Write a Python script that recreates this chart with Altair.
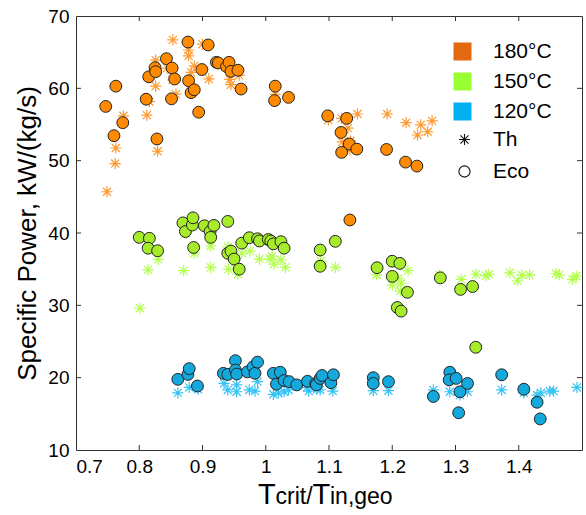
import altair as alt
import pandas as pd

# ---------------- data ----------------
eco180_x = [0.747, 0.763, 0.760, 0.774, 0.811, 0.815, 0.825, 0.826, 0.828, 0.843, 0.852, 0.851, 0.856,
            0.877, 0.878, 0.882, 0.887, 0.894, 0.899, 0.909, 0.922, 0.925, 0.938, 0.942, 0.945, 0.956,
            0.961, 1.015, 1.014, 1.036, 1.098, 1.128, 1.119, 1.132, 1.120, 1.144, 1.191, 1.221, 1.239, 1.133]
eco180_y = [57.5, 60.3, 53.45, 55.25, 58.5, 61.6, 62.85, 62.3, 53.0, 64.1, 62.8, 58.55, 61.3,
            66.4, 61.05, 59.4, 59.8, 56.7, 62.6, 66.0, 63.6, 63.5, 63.0, 63.6, 62.35, 62.5,
            59.9, 60.3, 58.3, 58.75, 56.2, 55.85, 53.9, 52.3, 51.15, 51.6, 51.55, 49.8, 49.25, 41.8]

th180_x = [0.749, 0.762, 0.763, 0.775, 0.812, 0.816, 0.826, 0.826, 0.829, 0.844, 0.853, 0.853, 0.858,
           0.878, 0.878, 0.882, 0.887, 0.900, 0.910, 0.936, 0.943, 0.945, 0.958, 1.015, 1.099, 1.120,
           1.145, 1.130, 1.121, 1.134, 1.133, 1.192, 1.222, 1.245, 1.263, 1.240, 1.256]
th180_y = [45.7, 49.6, 51.75, 56.2, 56.3, 58.15, 60.3, 63.9, 51.3, 62.8, 66.7, 61.15, 59.2,
           65.3, 64.5, 62.2, 63.1, 66.1, 61.3, 63.0, 61.25, 60.5, 61.8, 59.2, 55.6, 55.85,
           56.45, 54.5, 52.6, 52.75, 51.45, 56.45, 55.25, 54.95, 55.5, 53.55, 54.0]

eco150_x = [0.800, 0.816, 0.814, 0.829, 0.869, 0.873, 0.884, 0.885, 0.886, 0.903, 0.912, 0.918, 0.913,
            0.940, 0.940, 0.945, 0.950, 0.958, 0.962, 0.974, 0.987, 0.990, 1.004, 1.008, 1.012, 1.024,
            1.029, 1.086, 1.086, 1.110, 1.176, 1.200, 1.212, 1.200, 1.224, 1.208, 1.214, 1.276, 1.308,
            1.327, 1.332]
eco150_y = [39.4, 39.27, 37.9, 37.55, 41.4, 40.2, 41.1, 42.1, 38.0, 41.0, 40.2, 41.05, 39.4,
            41.6, 37.2, 37.5, 36.4, 35.0, 38.6, 39.35, 39.2, 38.9, 39.1, 38.9, 38.5, 38.8,
            37.9, 37.65, 35.4, 38.85, 35.2, 36.1, 35.8, 34.0, 31.8, 29.7, 29.2, 33.8, 32.2,
            32.6, 24.2]

th150_x = [0.801, 0.814, 0.830, 0.870, 0.874, 0.887, 0.913, 0.913, 0.940, 0.941, 0.956, 0.962, 0.975,
           0.990, 1.006, 1.010, 1.013, 1.024, 1.031, 1.087, 1.110, 1.175, 1.209, 1.200, 1.214, 1.213,
           1.225, 1.275, 1.309, 1.332, 1.348, 1.353, 1.386, 1.398, 1.405, 1.417, 1.459, 1.464, 1.485,
           1.491]
th150_y = [29.6, 34.9, 36.35, 34.8, 39.95, 37.2, 38.2, 35.25, 38.1, 35.0, 34.3, 37.2, 37.5,
           36.4, 36.4, 36.8, 35.7, 36.3, 35.25, 36.1, 35.25, 34.2, 33.7, 32.8, 33.05, 32.0,
           34.8, 34.2, 33.6, 34.3, 34.1, 34.3, 34.5, 33.4, 34.2, 34.2, 34.4, 34.2, 33.6,
           34.05]

eco120_x = [0.861, 0.877, 0.879, 0.892, 0.933, 0.940, 0.952, 0.952, 0.954, 0.971, 0.980, 0.983, 0.987,
            1.012, 1.023, 1.017, 1.029, 1.037, 1.049, 1.066, 1.079, 1.080, 1.086, 1.089, 1.103, 1.107,
            1.170, 1.170, 1.194, 1.265, 1.291, 1.290, 1.301, 1.307, 1.305, 1.319, 1.373, 1.408, 1.429,
            1.434]
eco120_y = [19.77, 20.45, 21.25, 18.85, 20.6, 20.45, 22.35, 21.05, 20.5, 20.8, 21.5, 20.6, 22.15,
            20.6, 20.75, 19.1, 19.6, 19.45, 19.0, 19.5, 19.2, 19.0, 19.9, 20.3, 19.3, 20.4,
            20.0, 19.2, 19.45, 17.4, 20.75, 19.7, 19.9, 18.05, 15.15, 19.2, 20.4, 18.4, 16.6,
            14.3]

th120_x = [0.861, 0.879, 0.893, 0.934, 0.940, 0.954, 0.954, 0.974, 0.983, 0.987, 1.012, 1.020, 1.029,
           1.036, 1.065, 1.081, 1.068, 1.086, 1.106, 1.170, 1.194, 1.265, 1.291, 1.307, 1.319, 1.373,
           1.408, 1.429, 1.435, 1.449, 1.455, 1.492]
th120_y = [17.9, 18.65, 18.4, 19.2, 18.3, 19.0, 18.05, 18.3, 18.15, 19.45, 17.7, 17.85, 18.05,
           18.3, 18.65, 18.4, 18.15, 18.3, 18.15, 18.2, 18.2, 18.3, 18.05, 17.6, 18.05, 18.3,
           17.9, 17.6, 17.9, 18.15, 18.15, 18.65]

temps = ["180°C", "150°C", "120°C"]
types = ["Th", "Eco"]
x_ticks = [0.7, 0.8, 0.9, 1.0, 1.1, 1.2, 1.3, 1.4]
y_ticks = [10, 20, 30, 40, 50, 60, 70]

legend_colors = ["#E2690F", "#99FF33", "#00B0F0"]
eco_colors = ["#FF8A00", "#A6EC2A", "#14A9DC"]
th_colors = ["#FF9A30", "#B2FF4C", "#35C3F5"]

STAR = "M-1,0L1,0M0,-1L0,1M-0.72,-0.72L0.72,0.72M-0.72,0.72L0.72,-0.72"

# ---------------- tables ----------------
def frame(xs, ys, temp, typ):
    return pd.DataFrame({"x": xs, "y": ys, "temp": temp, "type": typ})

th_df = pd.concat([frame(th180_x, th180_y, temps[0], "Th"),
                   frame(th150_x, th150_y, temps[1], "Th"),
                   frame(th120_x, th120_y, temps[2], "Th")], ignore_index=True)
eco_df = pd.concat([frame(eco180_x, eco180_y, temps[0], "Eco"),
                    frame(eco150_x, eco150_y, temps[1], "Eco"),
                    frame(eco120_x, eco120_y, temps[2], "Eco")], ignore_index=True)

W, H = 506, 434
FONT = "Liberation Sans"

xs = alt.Scale(domain=[0.7, 1.5], nice=False, zero=False)
ys = alt.Scale(domain=[10, 70], nice=False, zero=False)

shape_scale = alt.Scale(domain=types, range=[STAR, "circle"])

X = alt.X("x:Q", scale=xs,
          axis=alt.Axis(values=x_ticks, title=None,
                        labelExpr="datum.value == 1 ? '1' : format(datum.value, '.1f')"))
Y = alt.Y("y:Q", scale=ys,
          axis=alt.Axis(values=y_ticks, title="Specific Power, kW/(kg/s)"))

stars = alt.Chart(th_df).mark_point(filled=False, size=125, strokeWidth=1.2, opacity=1).encode(
    x=X, y=Y,
    stroke=alt.Stroke("temp:N", scale=alt.Scale(domain=temps, range=th_colors), legend=None),
    shape=alt.Shape("type:N", scale=shape_scale,
                    legend=alt.Legend(title=None, orient="none", legendX=378, legendY=113,
                                      symbolSize=125, symbolFillColor="white", symbolStrokeColor="#111",
                                      symbolStrokeWidth=1.1, labelOffset=18, rowPadding=10,
                                      labelFontSize=21, labelFont=FONT, labelColor="#000", padding=0)),
)

circles = alt.Chart(eco_df).mark_point(filled=True, size=140, stroke="#222", strokeWidth=1, opacity=1).encode(
    x=X, y=Y,
    fill=alt.Fill("temp:N", scale=alt.Scale(domain=temps, range=eco_colors), legend=None),
    shape=alt.Shape("type:N", scale=shape_scale),
)

legend_layer = alt.Chart(eco_df).mark_square(opacity=0, size=10).encode(
    x=X, y=Y,
    color=alt.Color("temp:N", scale=alt.Scale(domain=temps, range=legend_colors),
                    legend=alt.Legend(title=None, orient="none", legendX=376, legendY=25,
                                      symbolType="square", symbolSize=324, symbolOpacity=1,
                                      symbolStrokeWidth=0, labelOffset=20, rowPadding=8,
                                      labelFontSize=21, labelFont=FONT, labelColor="#000", padding=0)),
)

# inward ticks on all four sides (positions from the shared scales)
xt_df = pd.DataFrame({"x": x_ticks[1:]})
yt_df = pd.DataFrame({"y": y_ticks[1:-1]})
tick_style = dict(color="#333", strokeWidth=1)
xt_bottom = alt.Chart(xt_df).mark_rule(**tick_style).encode(
    x=X, y=alt.value(H), y2=alt.value(H - 5))
xt_top = alt.Chart(xt_df).mark_rule(**tick_style).encode(
    x=X, y=alt.value(0), y2=alt.value(5))
yt_left = alt.Chart(yt_df).mark_rule(**tick_style).encode(
    y=Y, x=alt.value(0), x2=alt.value(5))
yt_right = alt.Chart(yt_df).mark_rule(**tick_style).encode(
    y=Y, x=alt.value(W), x2=alt.value(W - 5))

one = alt.Data(values=[{"k": 0}])
def title_part(txt, size, xpos):
    return alt.Chart(one).mark_text(text=txt, fontSize=size, font=FONT, align="left",
                                    baseline="alphabetic", color="#000").encode(
        x=alt.value(xpos), y=alt.value(488))

t1 = title_part("T", 29, 182)
t2 = title_part("crit/", 23, 199.5)
t3 = title_part("T", 29, 236.5)
t4 = title_part("in,geo", 23, 254)

chart = alt.layer(
    legend_layer, stars, circles, xt_bottom, xt_top, yt_left, yt_right, t1, t2, t3, t4
).properties(
    width=W, height=H,
    autosize=alt.AutoSizeParams(type="none"),
    padding={"left": 76, "top": 16, "right": 4, "bottom": 65},
).configure_view(
    stroke="#333", strokeWidth=1
).configure_axis(
    grid=False, domain=False, ticks=False,
    labelFont=FONT, labelFontSize=19, labelColor="#000", labelPadding=7,
    titleFont=FONT, titleFontSize=26, titleFontWeight="normal", titleColor="#000", titlePadding=7,
)

chart.save("out.html", embed_options={"renderer": "svg", "actions": False})
